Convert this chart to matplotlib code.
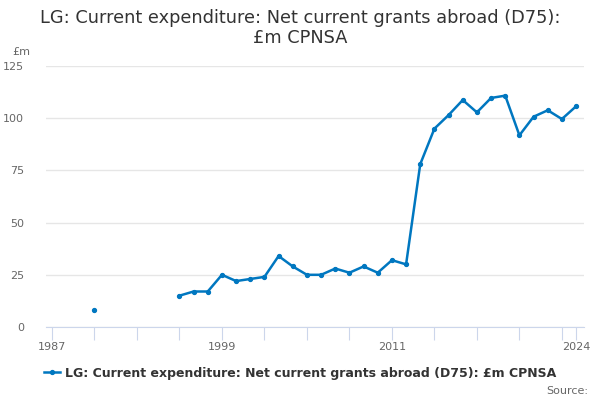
import matplotlib
matplotlib.use("Agg")
import matplotlib.pyplot as plt
import numpy as np

years = list(range(1987, 2025))
values = [np.nan, np.nan, np.nan, 8, np.nan, np.nan, np.nan, np.nan, np.nan,
          15, 17, 17, 25, 22, 23, 24, 34, 29, 25, 25, 28, 26, 29, 26, 32, 30,
          78, 95, 101.5, 108.7, 102.8, 109.7, 110.8, 91.8, 100.7, 103.8, 99.6, 105.7]
tick_years = list(range(1987, 2024, 3)) + [2024]
label_years = [1987, 1999, 2011, 2024]
yticks = [0, 25, 50, 75, 100, 125]

title = "LG: Current expenditure: Net current grants abroad (D75):\n£m CPNSA"
series_name = "LG: Current expenditure: Net current grants abroad (D75): £m CPNSA"

plt.rcParams['font.family'] = ['DejaVu Sans']
fig = plt.figure(figsize=(6, 4), dpi=100)
ax = fig.add_axes([46/600, 73/400, 538/600, 261/400])
color = '#0077c0'
ax.plot(years, values, color=color, lw=1.8, marker='o', ms=2.8, zorder=3)

ax.set_xlim(1986.58, 2024.56)
ax.set_ylim(0, 125)
ax.set_yticks(yticks)
ax.set_yticklabels([str(v) for v in yticks])
ax.set_xticks(tick_years)
ax.set_xticklabels([str(y) if y in label_years else '' for y in tick_years])
ax.grid(axis='y', color='#e6e6e6', lw=1)
ax.set_axisbelow(True)
for s in ['top', 'right', 'left']:
    ax.spines[s].set_visible(False)
ax.spines['bottom'].set_color('#ccd6eb')
ax.tick_params(axis='x', length=9, color='#ccd6eb', labelcolor='#666666', labelsize=8, pad=2)
ax.tick_params(axis='y', length=0, labelcolor='#666666', labelsize=8, pad=16)

fig.text(0.5, 0.977, title, ha='center', va='top', fontsize=12.8, color='#333333', linespacing=1.15)
fig.text(12/600, 1 - 52/400, '£m', ha='left', va='center', fontsize=8, color='#666666')

h, = ax.plot([], [], color=color, lw=1.8, marker='o', ms=2.8)
fig.legend([h], [series_name], loc='center', bbox_to_anchor=(0.5, 1 - 373/400),
           frameon=False, prop={'weight': 'bold', 'size': 9}, handlelength=1.3,
           handletextpad=0.4, labelcolor='#333333')
fig.text(588/600, 1 - 391/400, 'Source:', ha='right', va='center', fontsize=8, color='#666666')

fig.savefig('out.png', dpi=100)
